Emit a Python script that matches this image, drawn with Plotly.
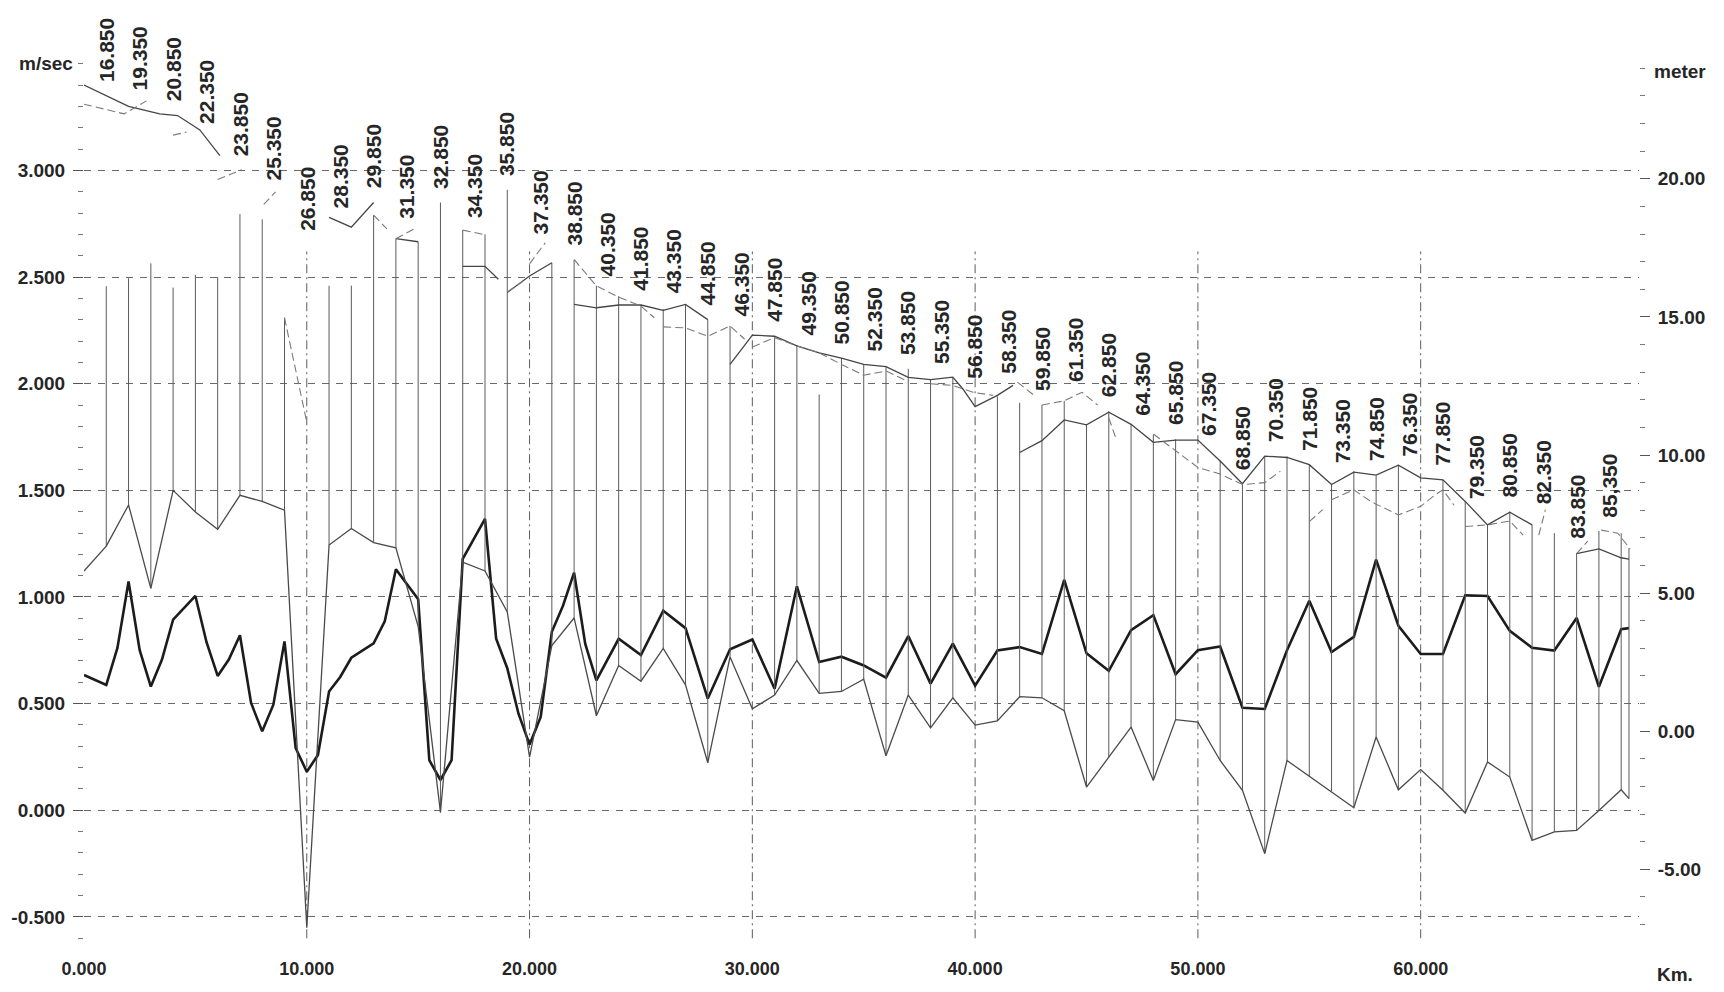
import numpy as np
import plotly.graph_objects as go

# ---------------------------------------------------------------
# Longitudinal profile: cross-sections, water levels and velocity
# ---------------------------------------------------------------

# Distance along the channel (km) of each surveyed cross-section
section_km = list(range(0, 70)) + [69.35]

# Bed elevation at each cross-section (m)
bed_level = [5.80, 6.70, 8.19, 5.17, 8.72, 7.94, 7.31, 8.54, 8.32, 8.00,
             -7.11, 6.74, 7.34, 6.83, 6.64, 3.79, -2.94, 6.12, 5.80, 4.32,
             -0.94, 3.10, 4.10, 0.56, 2.38, 1.81, 3.00, 1.68, -1.14, 2.69,
             0.81, 1.31, 2.56, 1.37, 1.44, 1.88, -0.89, 1.31, 0.12, 1.21,
             0.22, 0.37, 1.25, 1.21, 0.74, -2.02, -0.94, 0.15, -1.78, 0.42,
             0.33, -1.06, -2.14, -4.43, -1.06, -1.63, -2.17, -2.77, -0.21, -2.12,
             -1.39, -2.14, -2.96, -1.11, -1.66, -3.95, -3.64, -3.59, -2.87, -2.12,
             -2.44]

# Top of each cross-section (m)
bank_level = [None, 16.11, 16.40, 16.94, 16.06, 16.52, 16.44, 18.72, 18.53, 14.97,
              17.60, 16.13, 16.13, 18.68, 17.83, 17.72, 19.14, 18.14, 17.99, 19.60,
              16.91, 16.96, 17.06, 16.13, 15.75, 15.44, 15.28, 15.44, 14.90, 14.67,
              14.36, 14.28, 13.97, 12.19, 13.51, 13.28, 13.20, 13.12, 12.73, 12.81,
              11.73, 12.12, 11.89, 11.81, 11.96, 11.11, 11.58, 11.11, 10.73, 10.57,
              10.57, 9.80, 8.95, 9.95, 9.95, 9.65, 8.95, 9.41, 9.26, 9.65,
              9.18, 9.10, 8.33, 7.48, 7.95, 7.48, 7.17, 6.45, 7.25, 7.17,
              6.63]

# Water level, first profile (m); None marks a break in the line
wl1_km = [0, 2, 3.4, 4.2, 5.2, 6.1, None, 11, 12, 13, None, 14, 15, None,
          17, 18, 18.6, None, 19, 20, 21, None,
          22, 23, 24, 25, 26, 27, 28, None,
          29, 30, 31, 32, 33, 34, 35, 36, 37, 38, 39, 39.45, 40, 41, 41.7, None,
          42, 43, 44, 45, 46, 47, 48, 49, 50, 51, 52, 53, 54, 55, 56, 57, 58,
          59, 60, 61, 62, 63, 64, 65, None, 67, 68, 69, 69.35]
wl1 = [23.39, 22.62, 22.35, 22.29, 21.77, 20.84, None, 18.60, 18.25, 19.14, None, 17.83, 17.72, None,
       16.83, 16.83, 16.36, None, 15.88, 16.48, 16.96, None,
       15.45, 15.33, 15.43, 15.43, 15.24, 15.45, 14.90, None,
       13.28, 14.34, 14.30, 13.95, 13.70, 13.51, 13.28, 13.20, 12.81, 12.73, 12.82, 12.39, 11.75, 12.16, 12.52, None,
       10.09, 10.52, 11.27, 11.09, 11.55, 11.11, 10.46, 10.54, 10.54, 9.78, 8.96, 9.96, 9.91, 9.65, 8.93, 9.38, 9.27,
       9.63, 9.17, 9.10, 8.32, 7.47, 7.93, 7.47, None, 6.43, 6.60, 6.28, 6.23]

# Water level, second profile (m)
wl2_km = [0, 1.8, 2.8, None, 4.0, 4.6, None, 6.0, 7.08, None, 8.07, 8.6, None, 9, 10, None,
          13, 13.6, None, 14, 14.9, None, 17, 17.9, None, 19, 19.7, None, 20, 20.7, None,
          22, 23, 24, 25, 25.6, None, 26, 27, 28, 29, 29.65, None,
          30, 31, 32, 33, 34, 35, 36, 37, None, 38, 39, 39.9, 40.8, None, 41.9, 42.6, None,
          43, 44, 44.8, 45.5, None, 46, 46.3, None,
          48, 48.6, 49.7, 50, 51, 52, 53, 53.7, None, 55, 55.6, None,
          56, 57, 57.65, 58, 59, 60, 60.65, 61, 61.5, None, 62, 63, 64, 64.6, None,
          65.3, 65.6, None, 67, 67.5, None, 68.1, 68.85, 69.4]
wl2 = [22.70, 22.35, 22.82, None, 21.58, 21.69, None, 19.97, 20.33, None, 19.07, 19.53, None, 14.97, 11.19, None,
       18.68, 18.19, None, 17.83, 18.22, None, 18.14, 17.99, None, 15.90, 16.29, None, 16.92, 17.68, None,
       17.08, 16.12, 15.72, 15.39, 14.97, None, 14.64, 14.60, 14.30, 14.67, 14.20, None,
       13.91, 14.25, 13.95, 13.70, 13.28, 12.89, 13.04, 12.66, None, 12.58, 12.52, 12.27, 12.16, None, 12.64, 12.19, None,
       11.81, 11.96, 12.27, 11.81, None, 11.34, 10.65, None,
       10.76, 10.39, 9.72, 9.55, 9.31, 8.93, 9.00, 9.41, None, 7.59, 8.02, None,
       8.38, 8.74, 8.38, 8.22, 7.83, 8.14, 8.56, 8.74, 8.18, None, 7.41, 7.47, 7.61, 7.10, None,
       7.10, 8.02, None, 6.43, 6.88, None, 7.28, 7.17, 6.60]

# Mean velocity along the reach (m/sec)
vel_km = [0, 1.0, 1.5, 2.0, 2.5, 3.0, 3.5, 4.0, 5.0, 5.5,
          6.0, 6.5, 7.0, 7.5, 8.0, 8.5, 9.0, 9.5, 10.0, 10.5,
          11.0, 11.5, 12.0, 12.5, 13.0, 13.5, 14.0, 15.0, 15.5, 16.0,
          16.5, 17.0, 18.0, 18.5, 19.0, 19.5, 20.0, 20.5, 21.0, 21.5,
          22.0, 22.5, 23.0, 24.0, 25.0, 26.0, 27.0, 28.0, 29.0,
          30, 31, 32, 33, 34, 35, 36, 37, 38, 39,
          40, 41, 42, 43, 44, 45, 46, 47, 48, 49,
          50, 51, 52, 53, 54, 55, 56, 57, 58, 59,
          60, 61, 62, 63, 64, 65, 66, 67, 68, 69, 69.35]
velocity = [0.634, 0.588, 0.761, 1.073, 0.751, 0.580, 0.707, 0.894, 1.005, 0.788,
            0.630, 0.707, 0.821, 0.503, 0.370, 0.495, 0.792, 0.292, 0.181, 0.259,
            0.557, 0.625, 0.715, 0.751, 0.783, 0.886, 1.130, 0.989, 0.235, 0.142,
            0.235, 1.179, 1.366, 0.805, 0.666, 0.454, 0.308, 0.438, 0.837, 0.959,
            1.114, 0.780, 0.609, 0.804, 0.728, 0.936, 0.854, 0.524, 0.755,
            0.801, 0.570, 1.050, 0.695, 0.720, 0.679, 0.622, 0.817, 0.594, 0.781,
            0.584, 0.749, 0.765, 0.733, 1.080, 0.736, 0.654, 0.845, 0.915, 0.638,
            0.751, 0.768, 0.481, 0.475, 0.750, 0.982, 0.742, 0.813, 1.175, 0.865,
            0.733, 0.733, 1.008, 1.005, 0.841, 0.762, 0.749, 0.902, 0.579, 0.849, 0.854]

# Station names written above the profile and their distance (km)
station_names = ["16.850", "19.350", "20.850", "22.350", "23.850", "25.350", "26.850",
                 "28.350", "29.850", "31.350", "32.850", "34.350", "35.850", "37.350",
                 "38.850", "40.350", "41.850", "43.350", "44.850", "46.350", "47.850",
                 "49.350", "50.850", "52.350", "53.850", "55.350", "56.850", "58.350",
                 "59.850", "61.350", "62.850", "64.350", "65.850", "67.350", "68.850",
                 "70.350", "71.850", "73.350", "74.850", "76.350", "77.850", "79.350",
                 "80.850", "82.350", "83.850", "85,350"]
station_km = [1.0, 2.5, 4.0, 5.5, 7.0, 8.5, 10.0, 11.5, 13.0, 14.5, 16.0, 17.5,
              19.0, 20.5, 22.0, 23.5, 25.0, 26.5, 28.0, 29.5, 31.0, 32.5, 34.0,
              35.5, 37.0, 38.5, 40.0, 41.5, 43.0, 44.5, 46.0, 47.5, 49.0, 50.5,
              52.0, 53.5, 55.0, 56.5, 58.0, 59.5, 61.0, 62.5, 64.0, 65.5, 67.0, 68.5]

# Axis ticks
km_ticks = [0, 10, 20, 30, 40, 50, 60]
vel_ticks = [-0.5, 0.0, 0.5, 1.0, 1.5, 2.0, 2.5, 3.0]
elev_ticks = [-5, 0, 5, 10, 15, 20]

assert len(section_km) == len(bed_level) == len(bank_level)
assert len(wl1_km) == len(wl1) and len(wl2_km) == len(wl2)
assert len(vel_km) == len(velocity) and len(station_km) == len(station_names)

# ---------------------------------------------------------------
# Axis ranges: the velocity axis (left) and elevation axis (right)
# share the same plot height
# ---------------------------------------------------------------
X_RANGE = [0, 69.8]
VEL_RANGE = [-0.655, 3.5176]
ELEV_RANGE = [-7.92, 24.30]
GRID_SPAN = [-0.6, 2.62]          # extent of the 10-km grid lines (m/sec axis)

FONT = "Liberation Sans, Arial, Helvetica, sans-serif"
INK = "#262626"

fig = go.Figure()

# Cross-section verticals from bed to top of section
# (sections lying on a 10-km grid line are shown by the grid line itself)
vx, vy = [], []
for k, b, t in zip(section_km, bed_level, bank_level):
    if t is None or k in km_ticks:
        continue
    vx += [k, k, None]
    vy += [b, t, None]
fig.add_trace(go.Scatter(x=vx, y=vy, yaxis="y2", mode="lines",
                         line=dict(color="#5a5a5a", width=1), hoverinfo="skip"))

# Bed profile
fig.add_trace(go.Scatter(x=section_km, y=bed_level, yaxis="y2", mode="lines",
                         line=dict(color="#4a4a4a", width=1.3), name="Bed"))

# Water level profiles
fig.add_trace(go.Scatter(x=wl1_km, y=wl1, yaxis="y2", mode="lines",
                         line=dict(color="#454545", width=1.3), name="WL 1"))
fig.add_trace(go.Scatter(x=wl2_km, y=wl2, yaxis="y2", mode="lines",
                         line=dict(color="#7a7a7a", width=1.1, dash="8px,4px"), name="WL 2"))

# Velocity
fig.add_trace(go.Scatter(x=vel_km, y=velocity, yaxis="y", mode="lines",
                         line=dict(color="#1c1c1c", width=2.6), name="Velocity"))

# Vertical grid every 10 km (dash-dot)
shapes = []
for k in km_ticks[1:]:
    shapes.append(dict(type="line", xref="x", yref="y", x0=k, x1=k,
                       y0=GRID_SPAN[0], y1=GRID_SPAN[1],
                       line=dict(color="#5c5c5c", width=1, dash="9px,4px,2px,4px"), layer="below"))


# Station labels sit just above the highest drawn line at each station
def _segments(xs, ys):
    segs, cx, cy = [], [], []
    for a, b in zip(list(xs) + [None], list(ys) + [None]):
        if a is None or b is None:
            if cx:
                segs.append((np.array(cx, float), np.array(cy, float)))
            cx, cy = [], []
        else:
            cx.append(a)
            cy.append(b)
    return segs


all_segments = (_segments(wl1_km, wl1) + _segments(wl2_km, wl2)
                + _segments(section_km, bank_level))


def top_at(k):
    vals = [float(np.interp(k, sx, sy)) for sx, sy in all_segments if sx[0] <= k <= sx[-1]]
    return max(vals)


annotations = []
for name, k in zip(station_names, station_km):
    annotations.append(dict(x=k, y=top_at(k), xref="x", yref="y2", text=name, showarrow=False,
                            textangle=-90, xanchor="center", yanchor="bottom", yshift=12,
                            font=dict(family=FONT, size=21, color=INK, weight="bold")))

# Axis titles
annotations += [
    dict(x=-0.0245, y=0.9966, xref="paper", yref="paper", text="m/sec", showarrow=False,
         xanchor="center", yanchor="middle", font=dict(family=FONT, size=19, color=INK, weight="bold")),
    dict(x=1.0264, y=0.9876, xref="paper", yref="paper", text="meter", showarrow=False,
         xanchor="center", yanchor="middle", font=dict(family=FONT, size=19, color=INK, weight="bold")),
    dict(x=1.0232, y=-0.027, xref="paper", yref="paper", text="Km.", showarrow=False,
         xanchor="center", yanchor="middle", font=dict(family=FONT, size=19, color=INK, weight="bold")),
]

tick_font = dict(family=FONT, size=19, color=INK, weight="bold")

fig.update_layout(
    width=1724, height=992,
    margin=dict(l=84, r=85, t=60, b=42),
    paper_bgcolor="white", plot_bgcolor="white",
    showlegend=False,
    shapes=shapes,
    annotations=annotations,
    xaxis=dict(range=X_RANGE, tickvals=km_ticks, ticktext=[f"{v:.3f}" for v in km_ticks],
               showgrid=False, zeroline=False, showline=False, ticks="",
               ticklabelstandoff=6, tickfont=dict(family=FONT, size=18, color=INK, weight="bold")),
    yaxis=dict(range=VEL_RANGE, tickvals=vel_ticks, ticktext=[f"{v:.3f}" for v in vel_ticks],
               showgrid=True, gridcolor="#6a6a6a", gridwidth=1, griddash="7px,7px",
               zeroline=False, showline=False, ticks="outside", ticklen=10, tickcolor="#555",
               minor=dict(dtick=0.1, tick0=0, ticks="outside", ticklen=5, tickcolor="#777", showgrid=False),
               ticklabelstandoff=4, tickfont=tick_font),
    yaxis2=dict(range=ELEV_RANGE, overlaying="y", side="right", tickvals=elev_ticks,
                ticktext=[f"{v:.2f}" for v in elev_ticks], showgrid=False, zeroline=False,
                showline=False, ticks="outside", ticklen=10, tickcolor="#555",
                minor=dict(dtick=1, tick0=0, ticks="outside", ticklen=5, tickcolor="#777", showgrid=False),
                ticklabelstandoff=4, tickfont=tick_font),
)

fig.write_html("out.html")
